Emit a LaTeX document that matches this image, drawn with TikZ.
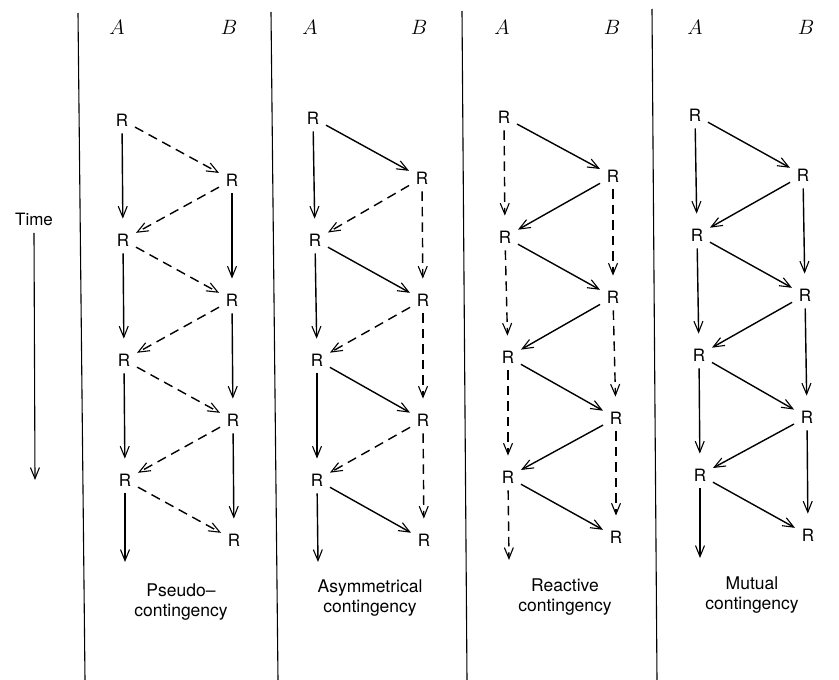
\documentclass[tikz,border=0pt]{standalone}
\usepackage{fontspec}
\setsansfont{TeX Gyre Heros}
\usetikzlibrary{arrows.meta}
\begin{document}
\begin{tikzpicture}[x=1pt,y=-1pt,
  rr/.style={font=\sffamily\fontsize{17}{19}\selectfont, inner sep=4pt},
  ab/.style={font=\fontsize{21}{23}\selectfont},
  lab/.style={font=\sffamily\fontsize{17.5}{19.5}\selectfont, align=center, anchor=north, inner sep=0pt},
  arr/.style={line width=1.4pt, -{Straight Barb[length=11pt,width=9pt,line width=1.1pt]}},
  sol/.style={arr},
  dsh/.style={arr, dash pattern=on 9.5pt off 6pt},
  vert/.style={shorten <=3pt, shorten >=11pt},
  diag/.style={shorten <=3pt, shorten >=3pt},
  divider/.style={line width=1.1pt}]
\useasboundingbox (0,0) rectangle (839,680);

% dividers
\draw[divider] (78,13) -- (85,680);
\draw[divider] (271,12) -- (278,680);
\draw[divider] (462,11) -- (467,680);
\draw[divider] (652,9) -- (657,680);

% time
\node[font=\sffamily\fontsize{17}{19}\selectfont] (time) at (34,219) {Time};
\coordinate (timeend) at (35,480);
\draw[line width=1.1pt, -{Straight Barb[length=11pt,width=9pt,line width=1.1pt]}] (time.south) ++(0,4) coordinate (timestart) -- (timeend);

% headers
\node[ab] (h1a) at (117,27) {$A$}; \node[ab] (h1b) at (229,27) {$B$};
\node[ab] (h2a) at (310,27) {$A$}; \node[ab] (h2b) at (419,27) {$B$};
\node[ab] (h3a) at (502,27) {$A$}; \node[ab] (h3b) at (612,27) {$B$};
\node[ab] (h4a) at (695,27) {$A$}; \node[ab] (h4b) at (806,27) {$B$};

% ---------- Panel 1: Pseudo-contingency
\node[rr] (p1a1) at (122,120) {R};
\node[rr] (p1a2) at (123,240) {R};
\node[rr] (p1a3) at (124,360) {R};
\node[rr] (p1a4) at (125,480) {R};
\node[rr] (p1b1) at (232,180) {R};
\node[rr] (p1b2) at (232,300) {R};
\node[rr] (p1b3) at (233,420) {R};
\node[rr] (p1b4) at (234,540) {R};
\coordinate (p1e) at (125,562);
\draw[sol,vert] (p1a1) -- (p1a2);
\draw[sol,vert] (p1a2) -- (p1a3);
\draw[sol,vert] (p1a3) -- (p1a4);
\draw[sol,shorten <=3pt] (p1a4) -- (p1e);
\draw[sol,vert] (p1b1) -- (p1b2);
\draw[sol,vert] (p1b2) -- (p1b3);
\draw[sol,vert] (p1b3) -- (p1b4);
\draw[dsh,diag] (p1a1) -- (p1b1);
\draw[dsh,diag] (p1b1) -- (p1a2);
\draw[dsh,diag] (p1a2) -- (p1b2);
\draw[dsh,diag] (p1b2) -- (p1a3);
\draw[dsh,diag] (p1a3) -- (p1b3);
\draw[dsh,diag] (p1b3) -- (p1a4);
\draw[dsh,diag] (p1a4) -- (p1b4);
\node[lab] (l1) at (181,584) {Pseudo--\\contingency};

% ---------- Panel 2: Asymmetrical contingency
\node[rr] (p2a1) at (313,118) {R};
\node[rr] (p2a2) at (315,240) {R};
\node[rr] (p2a3) at (317,360) {R};
\node[rr] (p2a4) at (317,480) {R};
\node[rr] (p2b1) at (422,178) {R};
\node[rr] (p2b2) at (423,300) {R};
\node[rr] (p2b3) at (423,420) {R};
\node[rr] (p2b4) at (424,540) {R};
\coordinate (p2e) at (318,562);
\draw[sol,vert] (p2a1) -- (p2a2);
\draw[sol,vert] (p2a2) -- (p2a3);
\draw[sol,vert] (p2a3) -- (p2a4);
\draw[sol,shorten <=3pt] (p2a4) -- (p2e);
\draw[dsh,vert] (p2b1) -- (p2b2);
\draw[dsh,vert] (p2b2) -- (p2b3);
\draw[dsh,vert] (p2b3) -- (p2b4);
\draw[sol,diag] (p2a1) -- (p2b1);
\draw[dsh,diag] (p2b1) -- (p2a2);
\draw[sol,diag] (p2a2) -- (p2b2);
\draw[dsh,diag] (p2b2) -- (p2a3);
\draw[sol,diag] (p2a3) -- (p2b3);
\draw[dsh,diag] (p2b3) -- (p2a4);
\draw[sol,diag] (p2a4) -- (p2b4);
\node[lab] (l2) at (370,580) {Asymmetrical\\contingency};

% ---------- Panel 3: Reactive contingency
\node[rr] (p3a1) at (504,117) {R};
\node[rr] (p3a2) at (505,237) {R};
\node[rr] (p3a3) at (508,357) {R};
\node[rr] (p3a4) at (508,477) {R};
\node[rr] (p3b1) at (613,176) {R};
\node[rr] (p3b2) at (613,297) {R};
\node[rr] (p3b3) at (616,418) {R};
\node[rr] (p3b4) at (616,537) {R};
\coordinate (p3e) at (509,560);
\draw[dsh,vert] (p3a1) -- (p3a2);
\draw[dsh,vert] (p3a2) -- (p3a3);
\draw[dsh,vert] (p3a3) -- (p3a4);
\draw[dsh,shorten <=3pt] (p3a4) -- (p3e);
\draw[dsh,vert] (p3b1) -- (p3b2);
\draw[dsh,vert] (p3b2) -- (p3b3);
\draw[dsh,vert] (p3b3) -- (p3b4);
\draw[sol,diag] (p3a1) -- (p3b1);
\draw[sol,diag] (p3b1) -- (p3a2);
\draw[sol,diag] (p3a2) -- (p3b2);
\draw[sol,diag] (p3b2) -- (p3a3);
\draw[sol,diag] (p3a3) -- (p3b3);
\draw[sol,diag] (p3b3) -- (p3a4);
\draw[sol,diag] (p3a4) -- (p3b4);
\node[lab] (l3) at (565,579) {Reactive\\contingency};

% ---------- Panel 4: Mutual contingency
\node[rr] (p4a1) at (695,115) {R};
\node[rr] (p4a2) at (697,235) {R};
\node[rr] (p4a3) at (699,355) {R};
\node[rr] (p4a4) at (700,475) {R};
\node[rr] (p4b1) at (803,175) {R};
\node[rr] (p4b2) at (805,295) {R};
\node[rr] (p4b3) at (807,417) {R};
\node[rr] (p4b4) at (808,535) {R};
\coordinate (p4e) at (700,558);
\draw[sol,vert] (p4a1) -- (p4a2);
\draw[sol,vert] (p4a2) -- (p4a3);
\draw[sol,vert] (p4a3) -- (p4a4);
\draw[sol,shorten <=3pt] (p4a4) -- (p4e);
\draw[sol,vert] (p4b1) -- (p4b2);
\draw[sol,vert] (p4b2) -- (p4b3);
\draw[sol,vert] (p4b3) -- (p4b4);
\draw[sol,diag] (p4a1) -- (p4b1);
\draw[sol,diag] (p4b1) -- (p4a2);
\draw[sol,diag] (p4a2) -- (p4b2);
\draw[sol,diag] (p4b2) -- (p4a3);
\draw[sol,diag] (p4a3) -- (p4b3);
\draw[sol,diag] (p4b3) -- (p4a4);
\draw[sol,diag] (p4a4) -- (p4b4);
\node[lab] (l4) at (752,577) {Mutual\\contingency};
\end{tikzpicture}
\end{document}
